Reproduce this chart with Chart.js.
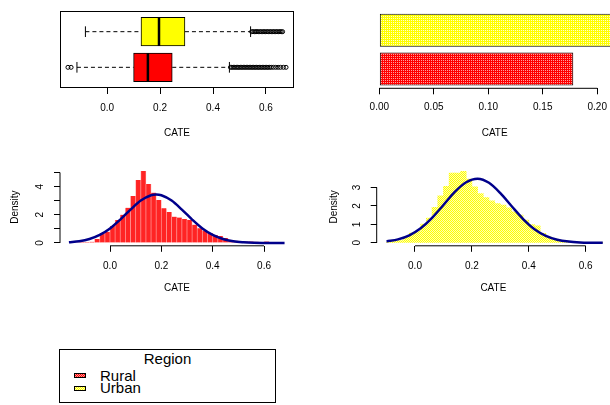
<!DOCTYPE html>
<html>
<head>
<meta charset="utf-8">
<script src="https://cdn.jsdelivr.net/npm/chart.js@4.4.0/dist/chart.umd.min.js"></script>
<style>
  body { margin: 0; background: #fff; }
  #wrap { position: relative; width: 610px; height: 405px; overflow: hidden; font-family: 'Liberation Sans', Arial, sans-serif; }
  #wrap canvas { position: absolute; }
  #legend { position: absolute; left: 59px; top: 349px; width: 215px; height: 52px; border: 1px solid #000; }
  #legend span { position: absolute; font-size: 15px; line-height: 15px; white-space: nowrap; }
  #legend i { position: absolute; left: 14px; width: 10px; height: 3px; border: 1px solid #000; }
</style>
</head>
<body>
<div id="wrap">
  <canvas id="boxChart" width="305" height="140" style="left:0;top:0"></canvas>
  <canvas id="barChart" width="305" height="140" style="left:305px;top:0"></canvas>
  <canvas id="ruralHist" width="305" height="160" style="left:0;top:140px"></canvas>
  <canvas id="urbanHist" width="305" height="160" style="left:305px;top:140px"></canvas>
  <div id="legend">
    <span style="left:0;width:215px;text-align:center;top:1px">Region</span>
    <i style="top:23px;background:repeating-conic-gradient(#ff0000 0 25%, #ff9a9a 0 50%) 0 0/2px 2px"></i>
    <span style="left:40px;top:18px">Rural</span>
    <i style="top:36px;background:repeating-conic-gradient(#ffff00 0 25%, #ffffb0 0 50%) 0 0/2px 2px"></i>
    <span style="left:40px;top:30px">Urban</span>
  </div>
</div>
<script>
const regions = ['Rural', 'Urban'];

// boxplot of CATE by region (top left)
const boxLower = [-0.114, -0.082];
const boxQ1 = [0.100, 0.128];
const boxMedian = [0.154, 0.196];
const boxQ3 = [0.246, 0.294];
const boxUpper = [0.462, 0.542];
const lowOutliers = [[-0.148, -0.136], []];
const highOutliers = [
  [0.466, 0.471, 0.477, 0.482, 0.488, 0.493, 0.498, 0.504, 0.509, 0.515, 0.52, 0.526, 0.531, 0.537,
   0.542, 0.548, 0.553, 0.559, 0.564, 0.57, 0.575, 0.581, 0.586, 0.592, 0.597, 0.603, 0.608, 0.614,
   0.62, 0.628, 0.637, 0.646, 0.655, 0.666, 0.676],
  [0.546, 0.551, 0.557, 0.562, 0.566, 0.571, 0.577, 0.582, 0.588, 0.593, 0.598, 0.604, 0.609, 0.615,
   0.62, 0.626, 0.631, 0.637, 0.642, 0.648, 0.653, 0.658, 0.663]
];
const boxTicks = [0, 0.2, 0.4, 0.6];
const boxTickLabels = ['0.0', '0.2', '0.4', '0.6'];

// mean CATE by region (top right)
const meanCate = [0.178, 0.218];
const barTicks = [0, 0.05, 0.1, 0.15, 0.2];
const barTickLabels = ['0.00', '0.05', '0.10', '0.15', '0.20'];

// histograms, bin width 0.02
const ruralBins = [-0.15, -0.13, -0.11, -0.09, -0.07, -0.05, -0.03, -0.01, 0.01, 0.03, 0.05, 0.07, 0.09, 0.11,
  0.13, 0.15, 0.17, 0.19, 0.21, 0.23, 0.25, 0.27, 0.29, 0.31, 0.33, 0.35, 0.37, 0.39, 0.41, 0.43, 0.45,
  0.47, 0.49, 0.51, 0.53, 0.55, 0.57, 0.59, 0.61, 0.63, 0.65];
const ruralDensity = [0.05, 0.05, 0.07, 0.07, 0.08, 0.28, 0.69, 0.8, 1.2, 1.63, 2.0, 2.5, 3.33, 4.47,
  5.1, 4.18, 3.57, 3.05, 2.46, 2.2, 1.87, 1.8, 1.7, 1.63, 1.3, 1.05, 0.87, 0.7, 0.57, 0.5, 0.35,
  0.22, 0.15, 0.12, 0.1, 0.1, 0.08, 0.06, 0.1, 0.03, 0.02];
const urbanBins = [-0.09, -0.07, -0.05, -0.03, -0.01, 0.01, 0.03, 0.05, 0.07, 0.09, 0.11, 0.13, 0.15, 0.17,
  0.19, 0.21, 0.23, 0.25, 0.27, 0.29, 0.31, 0.33, 0.35, 0.37, 0.39, 0.41, 0.43, 0.45, 0.47, 0.49,
  0.51, 0.53, 0.55, 0.57, 0.59, 0.61, 0.63, 0.65];
const urbanDensity = [0.05, 0.08, 0.12, 0.32, 0.53, 0.62, 1.01, 1.34, 1.92, 2.55, 3.06, 3.78, 3.78, 3.87,
  3.45, 3.03, 2.67, 2.45, 2.27, 2.13, 2.04, 1.9, 1.68, 1.5, 1.23, 0.99, 0.92, 0.52, 0.33, 0.2,
  0.14, 0.09, 0.06, 0.04, 0.03, 0.02, 0.01, 0.01];

// fitted normal curves
const ruralCurveX = [-0.16, -0.12, -0.08, -0.04, 0, 0.04, 0.08, 0.12, 0.16, 0.18, 0.2, 0.24, 0.28, 0.32,
  0.36, 0.4, 0.44, 0.48, 0.52, 0.56, 0.6, 0.64, 0.68];
const ruralCurveY = [0.05, 0.12, 0.28, 0.57, 1.03, 1.66, 2.37, 3.01, 3.39, 3.44, 3.39, 3.01, 2.37, 1.66,
  1.03, 0.57, 0.28, 0.12, 0.05, 0.016, 0.005, 0.001, 0.0003];
const urbanCurveX = [-0.1, -0.06, -0.02, 0.02, 0.06, 0.1, 0.14, 0.18, 0.22, 0.26, 0.3, 0.34, 0.38, 0.42,
  0.46, 0.5, 0.54, 0.58, 0.62, 0.66];
const urbanCurveY = [0.076, 0.187, 0.407, 0.788, 1.35, 2.05, 2.76, 3.28, 3.47, 3.25, 2.69, 1.98, 1.29, 0.74,
  0.38, 0.17, 0.069, 0.024, 0.008, 0.002];

const histTicks = [0, 0.2, 0.4, 0.6];
const histTickLabels = ['0.0', '0.2', '0.4', '0.6'];
const ruralYTicks = [0, 1, 2, 3, 4, 5];
const ruralYLabels = ['0', '', '2', '', '4', ''];
const urbanYTicks = [0, 1, 2, 3];
const urbanYLabels = ['0', '1', '2', '3'];

Chart.defaults.font.family = "'Liberation Sans', Arial, sans-serif";
Chart.defaults.font.size = 10;
Chart.defaults.color = '#000';
Chart.defaults.animation = false;
Chart.defaults.responsive = false;
Chart.defaults.plugins.legend.display = false;
Chart.defaults.plugins.tooltip.enabled = false;

function pattern(base, dot, full) {
  const c = document.createElement('canvas');
  c.width = 2; c.height = 2;
  const g = c.getContext('2d');
  g.fillStyle = base; g.fillRect(0, 0, 2, 2);
  g.fillStyle = dot; g.fillRect(0, 0, 1, 1);
  if (full) g.fillRect(1, 1, 1, 1);
  return g.createPattern(c, 'repeat');
}

// R style axis: line only from first to last tick, plus optional box
const rAxes = {
  id: 'rAxes',
  afterDatasetsDraw(chart, args, opts) {
    const { ctx, chartArea: a } = chart;
    ctx.save();
    ctx.strokeStyle = '#000';
    ctx.lineWidth = 1;
    if (opts.frame) ctx.strokeRect(a.left + 0.5, a.top + 0.5, a.width - 1, a.height - 1);
    (opts.lines || []).forEach(id => {
      const s = chart.scales[id];
      const p0 = s.getPixelForValue(s.ticks[0].value);
      const p1 = s.getPixelForValue(s.ticks[s.ticks.length - 1].value);
      ctx.beginPath();
      if (id === 'x') { ctx.moveTo(p0, a.bottom); ctx.lineTo(p1, a.bottom); }
      else { ctx.moveTo(a.left, p0); ctx.lineTo(a.left, p1); }
      ctx.stroke();
    });
    ctx.restore();
  }
};

function xAxis(min, max, values, labels, height, pad, titlePad) {
  return {
    type: 'linear', min, max, offset: false,
    afterBuildTicks: s => { s.ticks = values.map(v => ({ value: v })); },
    afterFit: s => { s.height = height; s.paddingLeft = 0; s.paddingRight = 0; },
    grid: { drawOnChartArea: false, offset: false, color: '#000', tickLength: 6 },
    border: { display: false },
    ticks: { autoSkip: false, maxRotation: 0, padding: pad, callback: (v, i) => labels[i] },
    title: { display: true, text: 'CATE', padding: { top: 0, bottom: titlePad } }
  };
}

function yAxis(min, max, values, labels, width, titlePad) {
  return {
    type: 'linear', min, max,
    afterBuildTicks: s => { s.ticks = values.map(v => ({ value: v })); },
    afterFit: s => { s.width = width; s.paddingTop = 0; s.paddingBottom = 0; },
    grid: { drawOnChartArea: false, color: '#000', tickLength: 6 },
    border: { display: false },
    ticks: { autoSkip: false, minRotation: 90, maxRotation: 90, crossAlign: 'center', padding: 10.6,
             callback: (v, i) => labels[i] },
    title: { display: true, text: 'Density', padding: { top: titlePad, bottom: 0 } }
  };
}

// ---- boxplot ----
const boxSets = [{
  type: 'bar', order: 2,
  data: regions.map((r, i) => ({ x: [boxQ1[i], boxQ3[i]], y: i + 1 })),
  backgroundColor: ['#ff0000', '#ffff00'],
  borderColor: '#000', borderWidth: 1, borderSkipped: false, barThickness: 28.5
}];
regions.forEach((r, i) => {
  const y = i + 1;
  const seg = (pts, extra) => boxSets.push(Object.assign({
    type: 'line', order: 1, data: pts, borderColor: '#000', borderWidth: 1, pointRadius: 0, tension: 0
  }, extra));
  seg([{ x: boxLower[i], y }, { x: boxQ1[i], y }], { borderDash: [4, 3] });
  seg([{ x: boxQ3[i], y }, { x: boxUpper[i], y }], { borderDash: [4, 3] });
  seg([{ x: boxLower[i], y: y - 0.15 }, { x: boxLower[i], y: y + 0.15 }]);
  seg([{ x: boxUpper[i], y: y - 0.15 }, { x: boxUpper[i], y: y + 0.15 }]);
  seg([{ x: boxMedian[i], y: y - 0.4 }, { x: boxMedian[i], y: y + 0.4 }], { borderWidth: 2.5, order: 0 });
  boxSets.push({
    type: 'scatter', order: 1,
    data: lowOutliers[i].concat(highOutliers[i]).map(v => ({ x: v, y })),
    pointRadius: 2, borderWidth: 1, borderColor: '#000', backgroundColor: 'rgba(0,0,0,0)'
  });
});

new Chart(document.getElementById('boxChart'), {
  type: 'bar',
  data: { datasets: boxSets },
  options: {
    indexAxis: 'y',
    layout: { padding: { left: 60, top: 11, right: 11, bottom: 0 } },
    scales: {
      x: xAxis(-0.178, 0.706, boxTicks, boxTickLabels, 52, 8.5, 1),
      y: { type: 'linear', display: false, min: 0.42, max: 2.58, offset: false, grid: { offset: false } }
    },
    plugins: { rAxes: { frame: true } }
  },
  plugins: [rAxes]
});

// ---- mean CATE bars ----
new Chart(document.getElementById('barChart'), {
  type: 'bar',
  data: {
    labels: regions,
    datasets: [{
      data: meanCate,
      backgroundColor: [pattern('#ff0000', '#ffa0a0'), pattern('#ffff00', '#ffffc8')],
      borderColor: '#000', borderWidth: 1, borderSkipped: false,
      barPercentage: 0.854, categoryPercentage: 1
    }]
  },
  options: {
    indexAxis: 'y',
    layout: { padding: { left: 74.3, top: 11, right: 0, bottom: 0 } },
    scales: {
      x: xAxis(0, 0.2117, barTicks, barTickLabels, 51.7, 7.2, 1),
      y: { display: false, reverse: true }
    },
    plugins: { rAxes: { lines: ['x'] } }
  },
  plugins: [rAxes]
});

// ---- histograms with normal curve ----
function histChart(id, bins, dens, cx, cy, fill, edge, edgeWidth, xr, yr, yTicks, yLabels, pad) {
  return new Chart(document.getElementById(id), {
    type: 'bar',
    data: {
      datasets: [{
        type: 'line', order: 0,
        data: cx.map((x, i) => ({ x, y: cy[i] })),
        borderColor: '#00008b', borderWidth: 2.5, pointRadius: 0, cubicInterpolationMode: 'monotone'
      }, {
        order: 1,
        data: bins.map((x, i) => ({ x, y: dens[i] })),
        backgroundColor: fill, borderColor: edge, borderWidth: edgeWidth,
        barPercentage: 1, categoryPercentage: 1
      }]
    },
    options: {
      layout: { padding: { left: 0, top: pad.top, right: pad.right, bottom: 0 } },
      scales: {
        x: xAxis(xr[0], xr[1], histTicks, histTickLabels, 160 - 105.8, 8.2, 5.7),
        y: yAxis(yr[0], yr[1], yTicks, yLabels, pad.left, pad.title)
      },
      plugins: { rAxes: { lines: ['x', 'y'] } }
    },
    plugins: [rAxes]
  });
}

histChart('ruralHist', ruralBins, ruralDensity, ruralCurveX, ruralCurveY,
  '#ff2424', '#ff9090', { left: 0.7, right: 0.7, top: 0, bottom: 0 }, [-0.1948, 0.7168], [-0.2, 5.3],
  ruralYTicks, ruralYLabels, { left: 60, top: 28.3, right: 11, title: 9.7 });
histChart('urbanHist', urbanBins, urbanDensity, urbanCurveX, urbanCurveY,
  pattern('#ffff00', '#ffffb0', true), '#ffff70', 0, [-0.1346, 0.6854], [-0.16, 4.056],
  urbanYTicks, urbanYLabels, { left: 71.7, top: 27.9, right: 0, title: 23 });
</script>
</body>
</html>
